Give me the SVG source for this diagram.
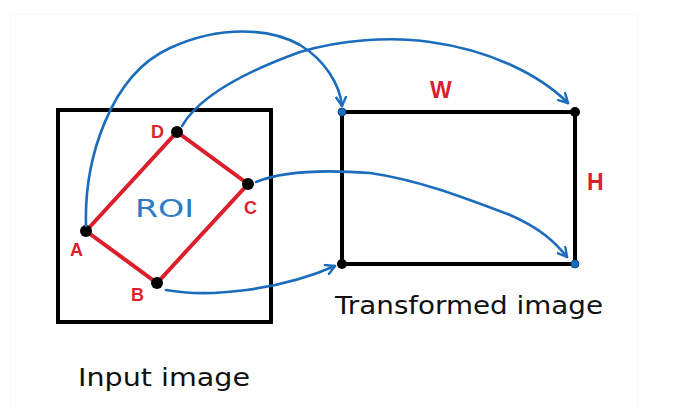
<svg xmlns="http://www.w3.org/2000/svg" width="674" height="408" viewBox="0 0 674 408">
<defs>
<marker id="chev" viewBox="0 0 12 12" refX="10" refY="6" markerWidth="12" markerHeight="12" markerUnits="userSpaceOnUse" orient="auto">
<path d="M1,1 L10,6 L1,11" fill="none" stroke="#1b6cbc" stroke-width="2.4" stroke-linecap="round" stroke-linejoin="round"/>
</marker>
<filter id="sh" x="-5%" y="-5%" width="110%" height="110%"><feGaussianBlur stdDeviation="1"/></filter>
</defs>
<style>
.frame{fill:none;stroke:#000;stroke-width:4;stroke-linejoin:miter}
.roi{fill:none;stroke:#dc1f2c;stroke-width:4;stroke-linecap:round}
.dot{fill:#000}
.bdot{fill:#1b6cbc;stroke:#0d4e8f;stroke-width:1}
.arc{fill:none;stroke:#1b6cbc;stroke-width:2.6;stroke-linecap:round;marker-end:url(#chev)}
.lbl{font-family:"Liberation Sans",Arial,sans-serif;font-weight:bold;fill:#dc1f2c;font-size:18px}
.big{font-size:23px}
.cap{font-family:"DejaVu Sans","Liberation Sans",sans-serif;fill:#111;font-size:25px}
</style>
<rect width="674" height="408" fill="#ffffff"/>
<rect x="12" y="15" width="625" height="400" fill="#ededed" filter="url(#sh)"/>
<rect x="12" y="15" width="625" height="400" fill="#ffffff"/>
<g id="input-image">
<rect class="frame" x="58" y="110" width="213" height="212"/>
<text class="cap" x="78" y="386" textLength="172" lengthAdjust="spacingAndGlyphs">Input image</text>
</g>
<g id="roi">
<polygon class="roi" points="86,231 177,132 248,184 157,283"/>
<text x="135" y="217" font-family="DejaVu Sans,Liberation Sans,sans-serif" font-size="25" fill="#2a7cc4" textLength="59" lengthAdjust="spacingAndGlyphs">ROI</text>
</g>
<g id="point-A"><circle class="dot" cx="86" cy="231" r="6"/><text class="lbl" x="70" y="256">A</text></g>
<g id="point-B"><circle class="dot" cx="157" cy="283" r="6"/><text class="lbl" x="131" y="301">B</text></g>
<g id="point-C"><circle class="dot" cx="248" cy="184" r="6"/><text class="lbl" x="244" y="214">C</text></g>
<g id="point-D"><circle class="dot" cx="177" cy="132" r="6"/><text class="lbl" x="151" y="138">D</text></g>
<g id="transformed-image">
<rect class="frame" x="342" y="112" width="233" height="152"/>
<circle class="bdot" cx="342" cy="112" r="4"/>
<circle class="dot" cx="575" cy="112" r="5"/>
<circle class="dot" cx="342" cy="264" r="5"/>
<circle class="bdot" cx="575" cy="264" r="4"/>
<text class="lbl big" x="430" y="98">W</text>
<text class="lbl big" x="587" y="190">H</text>
<text class="cap" x="335" y="314" textLength="268" lengthAdjust="spacingAndGlyphs">Transformed image</text>
</g>
<g id="connectors">
<path class="arc" d="M86,226 C84,160 110,75 170,48 C220,25 270,28 300,45 C325,60 340,85 342,106"/>
<path class="arc" d="M182,126 C200,95 250,70 300,52 C340,40 390,36 430,42 C490,50 540,75 568,103"/>
<path class="arc" d="M256,182 C285,170 330,170 370,173 C420,180 470,200 510,215 C540,228 555,242 567,257"/>
<path class="arc" d="M166,290 C210,298 280,290 335,266"/>
</g>
</svg>
